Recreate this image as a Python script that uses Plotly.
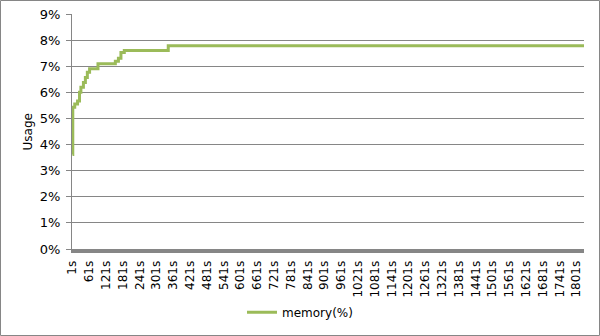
import plotly.graph_objects as go

# Step change points of memory usage (seconds, fraction)
step_seconds = [1, 2, 9, 19, 26, 31, 40, 47, 54, 62, 92, 154, 165, 174, 186, 343, 1830]
memory_pct = [0.0362, 0.0543, 0.0555, 0.0567, 0.0600, 0.0619, 0.0638, 0.0657, 0.0677,
              0.0690, 0.0709, 0.0719, 0.0731, 0.0753, 0.0760, 0.0778, 0.0778]

tick_seconds = list(range(1, 1802, 60))
tick_labels = [f"{s}s" for s in tick_seconds]
y_ticks = [i / 100 for i in range(0, 10)]
y_labels = [f"{i}%" for i in range(0, 10)]

GRID = "#868686"
FONT = "DejaVu Sans"

fig = go.Figure()
fig.add_trace(go.Scatter(
    x=step_seconds, y=memory_pct, mode="lines", line_shape="hv",
    line=dict(color="#9BBB59", width=3), name="memory(%)"))

fig.update_layout(
    width=600, height=336,
    margin=dict(l=72, r=16, t=14, b=87, autoexpand=False),
    paper_bgcolor="white", plot_bgcolor="white",
    font=dict(family=FONT, size=11, color="black"),
    showlegend=True,
    legend=dict(orientation="h", xref="container", yref="container",
                x=0.5, xanchor="center", y=0.071, yanchor="middle",
                font=dict(size=12), itemwidth=30),
    xaxis=dict(range=[-0.8, 1828], tickmode="array", tickvals=tick_seconds,
               ticktext=tick_labels, tickangle=-90, showgrid=False,
               showline=True, linecolor=GRID, linewidth=4, ticks="",
               zeroline=False, tickfont=dict(size=12), automargin=False,
               ticklabelstandoff=3),
    yaxis=dict(range=[0, 0.09], tickmode="array", tickvals=y_ticks,
               ticktext=y_labels, showgrid=True, gridcolor=GRID, gridwidth=1,
               showline=True, linecolor=GRID, linewidth=1, ticks="outside",
               ticklen=5, tickcolor=GRID, zeroline=False, tickfont=dict(size=13),
               automargin=False, ticklabelstandoff=3),
    annotations=[dict(text="Usage", xref="paper", yref="paper", x=-0.086, y=0.5,
                      textangle=-90, showarrow=False, xanchor="center",
                      yanchor="middle", font=dict(size=12))],
    shapes=[dict(type="rect", xref="paper", yref="paper",
                 x0=(0.5 - 72) / 512, x1=(599.5 - 72) / 512,
                 y0=(249 - 335.5) / 235, y1=(249 - 0.5) / 235,
                 line=dict(color=GRID, width=1), layer="below")],
)

fig.write_html("out.html")
